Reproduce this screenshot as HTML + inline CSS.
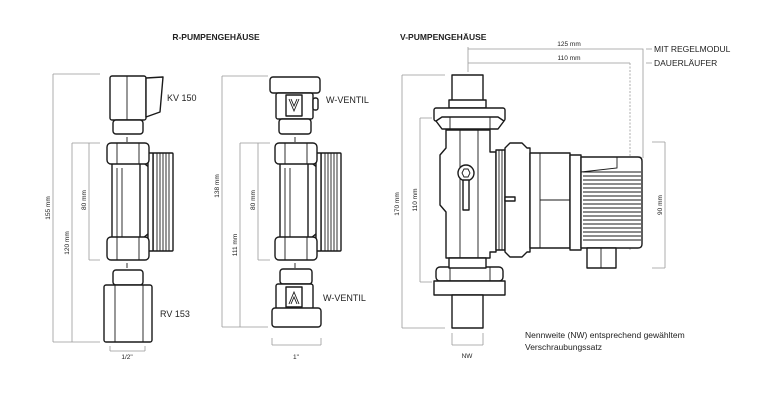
<!DOCTYPE html>
<html><head><meta charset="utf-8"><style>
html,body{margin:0;padding:0;background:#fff}
svg{display:block}
text{font-family:"Liberation Sans",sans-serif;fill:#222}
.o{fill:#fff;stroke:#1a1a1a;stroke-width:1.4;stroke-linejoin:round}
.l{fill:none;stroke:#1a1a1a;stroke-width:0.9}
.d{fill:none;stroke:#999;stroke-width:0.8}
</style></head><body>
<svg width="780" height="400" viewBox="0 0 780 400" xmlns="http://www.w3.org/2000/svg">
<defs>
<g id="hous">
  <rect class="o" x="153" y="153" width="20" height="98" rx="1"/>
  <path class="l" d="M157 153V251M160 153V251M163 153V251M166 153V251M169 153V251"/>
  <path class="o" d="M112 160 L112 240 L148 240 L148 160 Z"/>
  <path class="o" d="M140 160 Q146 165 150 168 L150 232 Q146 236 140 240 Z"/>
  <path class="o" d="M148 153 H153 V251 H148 Z"/>
  <rect class="o" x="107" y="143" width="42" height="21" rx="4"/>
  <path class="l" d="M117 143V164M139 143V164"/>
  <rect class="o" x="107" y="237" width="42" height="23" rx="4"/>
  <path class="l" d="M117 237V260M139 237V260M117 168V237M122 168V237"/>
  <path class="l" d="M127 137V142M127 263V268"/>
</g>
</defs>

<text x="216" y="40" font-size="8.5" font-weight="bold" text-anchor="middle">R-PUMPENGEHÄUSE</text>
<text x="400" y="40" font-size="8.5" font-weight="bold">V-PUMPENGEHÄUSE</text>

<!-- group 1 -->
<use href="#hous"/>
<rect class="o" x="110" y="76" width="36" height="44" rx="2"/>
<path class="l" d="M127 76V120"/>
<path class="o" d="M146 78 L163 77 L160 112 L146 117 Z"/>
<rect class="o" x="113" y="120" width="30" height="14" rx="3"/>
<rect class="o" x="113" y="270" width="30" height="15" rx="3"/>
<rect class="o" x="104" y="285" width="48" height="57" rx="2"/>
<path class="l" d="M115 285V342M143 285V342"/>
<text x="167" y="101" font-size="9">KV 150</text>
<text x="160" y="317" font-size="9">RV 153</text>
<path class="d" d="M53 74V342M53 74H100M53 342H100M72 143V342M72 143H100M89 143V260M89 143H100M89 260H100M110 346V351M145 346V351M110 351H145"/>
<text transform="translate(50,208) rotate(-90)" font-size="6.5" text-anchor="middle">155 mm</text>
<text transform="translate(69,243) rotate(-90)" font-size="6.5" text-anchor="middle">120 mm</text>
<text transform="translate(86,200) rotate(-90)" font-size="6.5" text-anchor="middle">80 mm</text>
<text x="127" y="359" font-size="6.5" text-anchor="middle">1/2"</text>

<!-- group 2 -->
<use href="#hous" transform="translate(168,0)"/>
<rect class="o" x="270" y="77" width="50" height="16" rx="3"/>
<rect class="o" x="276" y="93" width="37" height="26" rx="2"/>
<rect class="o" x="313" y="98" width="5" height="12" rx="2"/>
<rect class="o" x="286" y="95" width="16" height="21"/>
<path class="l" d="M289 99L294 111L299 99M291 99L294 106L297 99"/>
<rect class="o" x="279" y="119" width="32" height="15" rx="3"/>
<rect class="o" x="280" y="269" width="32" height="15" rx="3"/>
<rect class="o" x="276" y="284" width="37" height="25" rx="2"/>
<rect class="o" x="286" y="287" width="16" height="20"/>
<path class="l" d="M289 304L294 292L299 304M291 304L294 297L297 304"/>
<rect class="o" x="272" y="308" width="49" height="19" rx="3"/>
<text x="326" y="103" font-size="9">W-VENTIL</text>
<text x="323" y="301" font-size="9">W-VENTIL</text>
<path class="d" d="M222 76V327M222 76H268M222 327H268M240 143V327M240 143H270M258 143V260M258 143H270M258 260H270M272 338V345M321 338V345M272 345H321"/>
<text transform="translate(219,186) rotate(-90)" font-size="6.5" text-anchor="middle">138 mm</text>
<text transform="translate(237,245) rotate(-90)" font-size="6.5" text-anchor="middle">111 mm</text>
<text transform="translate(255,200) rotate(-90)" font-size="6.5" text-anchor="middle">80 mm</text>
<text x="296" y="359" font-size="6.5" text-anchor="middle">1"</text>

<!-- pump -->
<path class="d" d="M468 49H643V158M468 63H630M468 47V72M402 75V328M402 75H445M402 328H445M420 118V282M420 118H432M420 282H432M665 142V268M652 142H665M652 268H665M452 333V345M483 333V345M452 345H483M646 49H652M646 63H652"/>
<path d="M630 63V250" fill="none" stroke="#999" stroke-width="0.8" stroke-dasharray="2,1.5"/>
<text x="569" y="46" font-size="6.5" text-anchor="middle">125 mm</text>
<text x="569" y="60" font-size="6.5" text-anchor="middle">110 mm</text>
<text x="654" y="52" font-size="8.5">MIT REGELMODUL</text>
<text x="654" y="66" font-size="8.5">DAUERLÄUFER</text>
<text transform="translate(399,204) rotate(-90)" font-size="6.5" text-anchor="middle">170 mm</text>
<text transform="translate(417,200) rotate(-90)" font-size="6.5" text-anchor="middle">110 mm</text>
<text transform="translate(662,205) rotate(-90)" font-size="6.5" text-anchor="middle">90 mm</text>
<text x="467" y="358" font-size="6.5" text-anchor="middle">NW</text>
<text x="525" y="338" font-size="8.5">Nennweite (NW) entsprechend gewähltem</text>
<text x="525" y="350" font-size="8.5">Verschraubungssatz</text>

<rect class="o" x="452" y="75" width="31" height="27"/>
<rect class="o" x="449" y="100" width="37" height="8"/>
<rect class="o" x="434" y="108" width="71" height="13" rx="2"/>
<path class="o" d="M436 121 L442 117 L498 117 L504 121 L498 129 L442 129 Z"/>
<path class="l" d="M450 117V129M490 117V129"/>
<path class="o" d="M446 130 H490 V152 H496 V252 H490 V258 H446 V212 L440 205 V155 L446 148 Z"/>
<path class="l" d="M460 130V258M478 130V258"/>
<circle class="o" cx="466" cy="173" r="8"/>
<path class="o" d="M463 180 L469 180 L469 210 L463 210 Z"/>
<path class="l" d="M462 173L464 169L468 169L470 173L468 177L464 177Z"/>
<rect class="o" x="436" y="267" width="67" height="14" rx="4"/>
<path class="o" d="M434 281 H505 V295 H434 Z"/>
<path class="l" d="M450 267V281M490 267V281"/>
<rect class="o" x="449" y="258" width="37" height="10"/>
<rect class="o" x="452" y="295" width="31" height="33"/>
<rect class="o" x="496" y="150" width="9" height="100"/>
<path class="l" d="M499 150V250M502 150V250"/>
<path class="o" d="M505 148 L510 143 L522 143 L527 148 H530 V252 H527 L522 257 L510 257 L505 252 Z"/>
<rect class="o" x="505" y="197" width="10" height="4"/>
<rect class="o" x="530" y="153" width="40" height="95"/>
<path class="l" d="M540 153V248M540 200H570"/>
<rect class="o" x="570" y="155" width="11" height="95"/>
<path class="o" d="M581 157 H638 Q642 157 642 161 V244 Q642 248 638 248 H581 Z"/>
<path class="l" d="M583 172H641M583 176H641M583 180H641M583 184H641M583 188H641M583 192H641M583 196H641M583 200H641M583 204H641M583 208H641M583 212H641M583 216H641M583 220H641M583 224H641M583 228H641M583 232H641M583 236H641M583 240H641M581 172 L617 168 V157"/>
<rect class="o" x="587" y="248" width="29" height="20"/>
<path class="l" d="M601 248V268"/>
</svg>
</body></html>
